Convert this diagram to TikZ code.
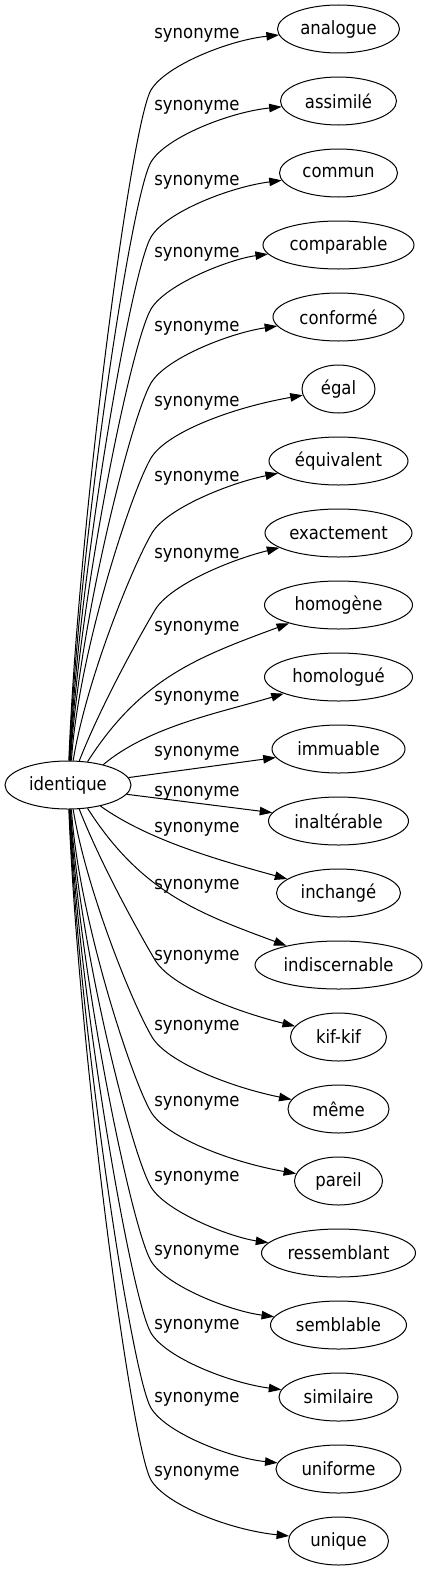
\documentclass[tikz,border=0pt]{standalone}
\usepackage{fontspec}
\setmainfont{DejaVu Sans}[FakeStretch=0.9]
\usetikzlibrary{arrows.meta,shapes.geometric}
\newcommand\gvf{\fontsize{18.3}{22}\selectfont}
\begin{document}
\begin{tikzpicture}[x=1pt,y=-1pt,line width=1pt,
  gv/.style={draw,ellipse,inner sep=0pt,minimum height=48pt,font=\gvf},
  lbl/.style={inner sep=0pt,font=\gvf,yshift=-2pt},
  syn/.style={-{Triangle[length=12.5pt,width=8.5pt]}}]
\useasboundingbox (0,0) rectangle (427,1571);
% central node
\node[gv,minimum width=126pt] (id) at (68,785) {identique};
% targets
\node[gv,minimum width=122pt] (t0)  at (338.5,29)   {analogue};
\node[gv,minimum width=116pt] (t1)  at (338.5,101)  {assimilé};
\node[gv,minimum width=118pt] (t2)  at (338.5,173)  {commun};
\node[gv,minimum width=151pt] (t3)  at (338.5,245)  {comparable};
\node[gv,minimum width=131pt] (t4)  at (338.5,317)  {conformé};
\node[gv,minimum width=73pt]  (t5)  at (338.5,389)  {égal};
\node[gv,minimum width=139pt] (t6)  at (338.5,461)  {équivalent};
\node[gv,minimum width=147pt] (t7)  at (338.5,533)  {exactement};
\node[gv,minimum width=148pt] (t8)  at (338.5,605)  {homogène};
\node[gv,minimum width=148pt] (t9)  at (338.5,677)  {homologué};
\node[gv,minimum width=133pt] (t10) at (338.5,749)  {immuable};
\node[gv,minimum width=140pt] (t11) at (338.5,821)  {inaltérable};
\node[gv,minimum width=124pt] (t12) at (338.5,893)  {inchangé};
\node[gv,minimum width=167pt] (t13) at (338.5,965)  {indiscernable};
\node[gv,minimum width=96pt]  (t14) at (338.5,1037) {kif-kif};
\node[gv,minimum width=101pt] (t15) at (338.5,1109) {même};
\node[gv,minimum width=88pt]  (t16) at (338.5,1181) {pareil};
\node[gv,minimum width=154pt] (t17) at (338.5,1253) {ressemblant};
\node[gv,minimum width=136pt] (t18) at (338.5,1325) {semblable};
\node[gv,minimum width=119pt] (t19) at (338.5,1397) {similaire};
\node[gv,minimum width=125pt] (t20) at (338.5,1469) {uniforme};
\node[gv,minimum width=100pt] (t21) at (338.5,1541) {unique};
% knee coordinates
\coordinate (k0) at (151,90);   \coordinate (k1) at (151,162);
\coordinate (k2) at (151,237);  \coordinate (k3) at (151,309);
\coordinate (k4) at (151,383);  \coordinate (k5) at (151,458);
\coordinate (k6) at (152,533);  \coordinate (k7) at (155,610);
\coordinate (k14) at (155,960); \coordinate (k15) at (152,1037);
\coordinate (k16) at (151,1112); \coordinate (k17) at (151,1187);
\coordinate (k18) at (151,1261); \coordinate (k19) at (151,1333);
\coordinate (k20) at (151,1408); \coordinate (k21) at (151,1480);
% edges, upper half
\draw[syn] (id.88) .. controls (78,526) and (131,124) .. (k0) .. controls (166,65) and (230,40) .. (t0) node[lbl] (l0) at (197,33) {synonyme};
\draw[syn] (id.87) .. controls (78,551) and (131,196) .. (k1) .. controls (166,137) and (230,112) .. (t1) node[lbl] (l1) at (197,105) {synonyme};
\draw[syn] (id.86) .. controls (78,578) and (131,271) .. (k2) .. controls (166,212) and (230,187) .. (t2) node[lbl] (l2) at (197,180) {synonyme};
\draw[syn] (id.85) .. controls (78,603) and (131,343) .. (k3) .. controls (166,284) and (230,259) .. (t3) node[lbl] (l3) at (197,252) {synonyme};
\draw[syn] (id.84) .. controls (78,629) and (131,417) .. (k4) .. controls (166,358) and (230,333) .. (t4) node[lbl] (l4) at (197,326) {synonyme};
\draw[syn] (id.82) .. controls (78,655) and (131,492) .. (k5) .. controls (166,433) and (230,408) .. (t5) node[lbl] (l5) at (197,401) {synonyme};
\draw[syn] (id.78) .. controls (86,681) and (132,567) .. (k6) .. controls (167,508) and (230,483) .. (t6) node[lbl] (l6) at (197,476) {synonyme};
\draw[syn] (id.65) .. controls (100,708) and (135,644) .. (k7) .. controls (170,585) and (230,560) .. (t7) node[lbl] (l7) at (197,553) {synonyme};
\draw[syn] (id.50) .. controls (141,678) and (198,657) .. (t8) node[lbl] (l8) at (197,626) {synonyme};
\draw[syn] (id.30) .. controls (149,726) and (223,712) .. (t9) node[lbl] (l9) at (197,696) {synonyme};
\draw[syn] (id.7) -- (t10) node[lbl] (l10) at (197,751) {synonyme};
% edges, lower half
\draw[syn] (id.-9) -- (t11) node[lbl] (l11) at (197,791) {synonyme};
\draw[syn] (id.-33) .. controls (148,840) and (218,860) .. (t12) node[lbl] (l12) at (197,827) {synonyme};
\draw[syn] (id.-50) .. controls (141,892) and (198,913) .. (t13) node[lbl] (l13) at (197,884) {synonyme};
\draw[syn] (id.-65) .. controls (100,862) and (135,926) .. (k14) .. controls (170,985) and (230,1010) .. (t14) node[lbl] (l14) at (197,955) {synonyme};
\draw[syn] (id.-78) .. controls (86,889) and (132,1003) .. (k15) .. controls (167,1062) and (230,1087) .. (t15) node[lbl] (l15) at (197,1025) {synonyme};
\draw[syn] (id.-82) .. controls (78,915) and (131,1078) .. (k16) .. controls (166,1137) and (230,1162) .. (t16) node[lbl] (l16) at (197,1101) {synonyme};
\draw[syn] (id.-84) .. controls (78,941) and (131,1153) .. (k17) .. controls (166,1212) and (230,1237) .. (t17) node[lbl] (l17) at (197,1176) {synonyme};
\draw[syn] (id.-85) .. controls (78,967) and (131,1227) .. (k18) .. controls (166,1286) and (230,1311) .. (t18) node[lbl] (l18) at (197,1250) {synonyme};
\draw[syn] (id.-86) .. controls (78,992) and (131,1299) .. (k19) .. controls (166,1358) and (230,1383) .. (t19) node[lbl] (l19) at (197,1324) {synonyme};
\draw[syn] (id.-87) .. controls (78,1019) and (131,1374) .. (k20) .. controls (166,1433) and (230,1458) .. (t20) node[lbl] (l20) at (197,1397) {synonyme};
\draw[syn] (id.-88) .. controls (78,1044) and (131,1446) .. (k21) .. controls (166,1505) and (230,1530) .. (t21) node[lbl] (l21) at (197,1471) {synonyme};
\end{tikzpicture}
\end{document}
